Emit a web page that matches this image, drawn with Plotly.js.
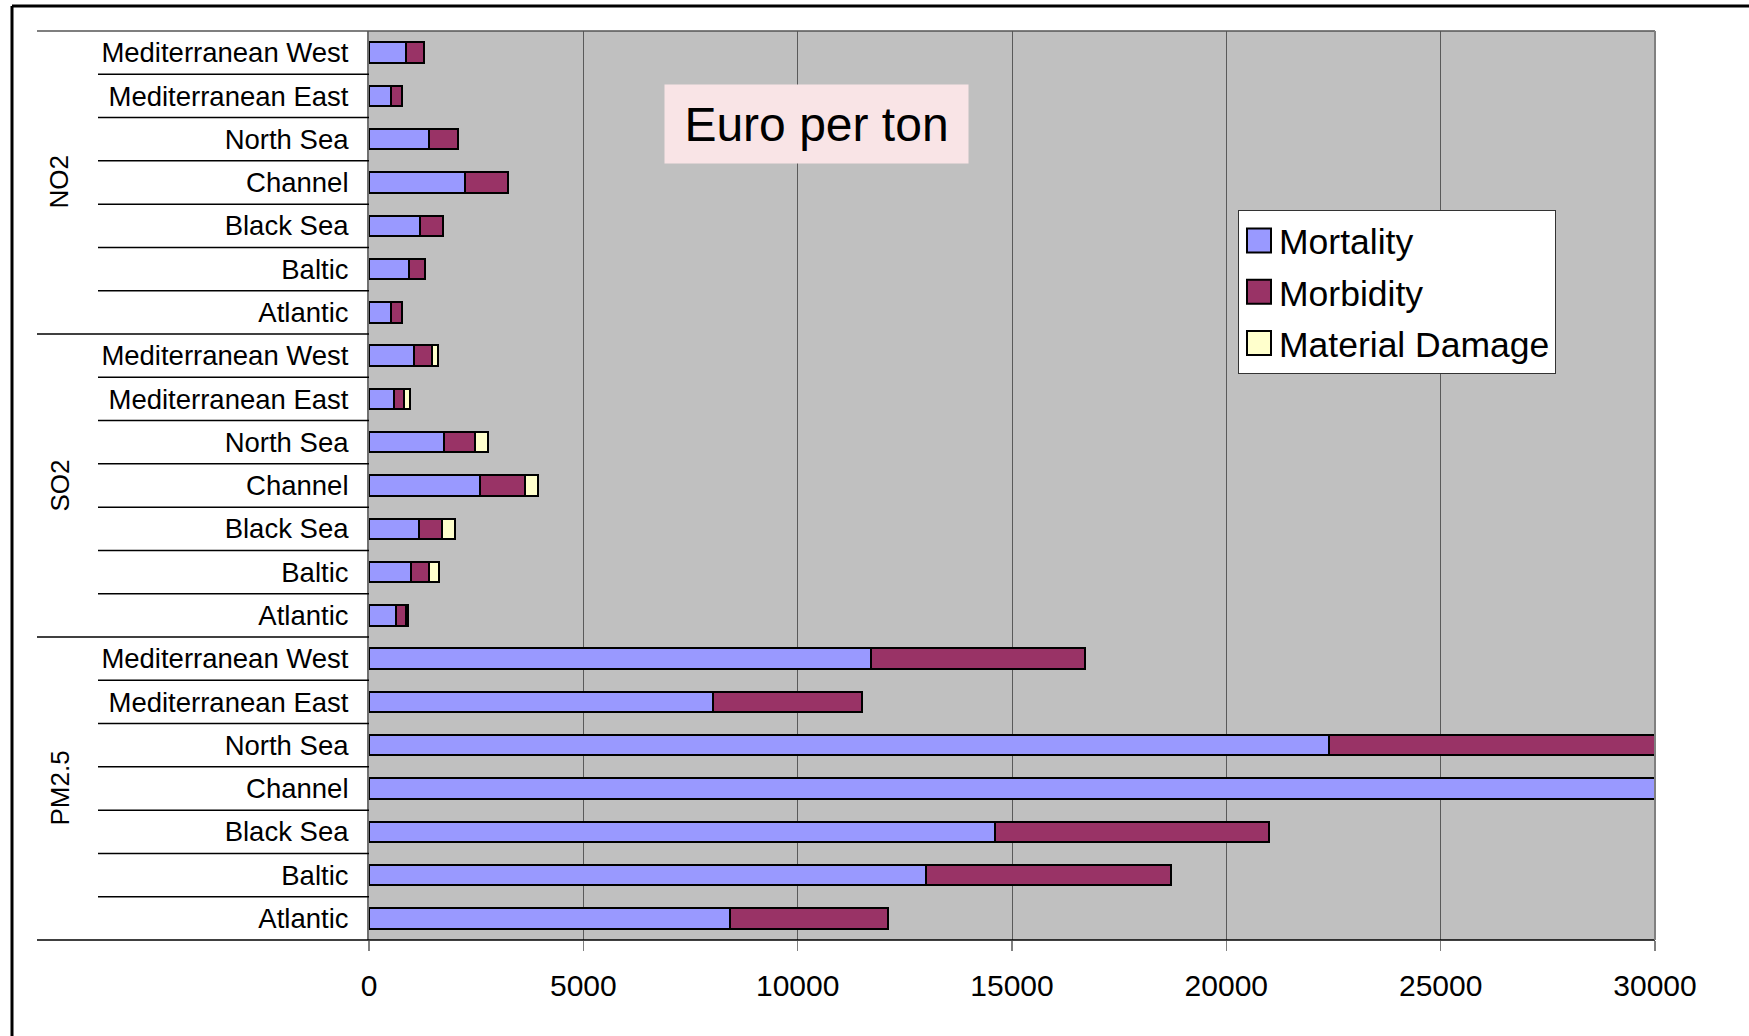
<!DOCTYPE html>
<html>
<head>
<meta charset="utf-8">
<script src="https://cdn.plot.ly/plotly-3.0.1.min.js"></script>
<style>
  html, body { margin: 0; padding: 0; background: #ffffff; }
  #chart { width: 1749px; height: 1036px; }
</style>
</head>
<body>
<div id="chart"></div>
<script>
// Sea areas, listed top to bottom within each pollutant block
const regions = ['Mediterranean West', 'Mediterranean East', 'North Sea', 'Channel', 'Black Sea', 'Baltic', 'Atlantic'];
const pollutants = ['NO2', 'SO2', 'PM2.5'];

// Damage cost, euro per ton emitted
const mortalityNO2 = [870, 520, 1410, 2240, 1180, 930, 520];
const mortalitySO2 = [1050, 590, 1750, 2600, 1170, 990, 630];
const mortalityPM25 = [11700, 8020, 22400, 33500, 14600, 13000, 8420];

const morbidityNO2 = [410, 250, 660, 1010, 540, 370, 250];
const morbiditySO2 = [410, 220, 730, 1040, 530, 420, 240];
const morbidityPM25 = [5000, 3480, 9600, 14400, 6400, 5700, 3680];

const materialNO2 = [null, null, null, null, null, null, null];
const materialSO2 = [140, 140, 290, 310, 300, 230, 50];
const materialPM25 = [null, null, null, null, null, null, null];

const xTicks = [0, 5000, 10000, 15000, 20000, 25000, 30000];

// One category key per (pollutant, region) row
const keys = [];
const labels = [];
pollutants.forEach(p => regions.forEach(r => { keys.push(p + '|' + r); labels.push(r); }));

const FONT = '"Liberation Sans", Arial, Helvetica, sans-serif';
const outline = { color: '#000000', width: 2 };

function series(name, color, a, b, c, group) {
  return {
    type: 'bar',
    orientation: 'h',
    name: name,
    legendgroup: group,
    y: keys,
    x: a.concat(b, c),
    marker: { color: color, line: outline },
    hoverinfo: 'x+name'
  };
}

const traces = [
  series('Mortality', '#9999FF', mortalityNO2, mortalitySO2, mortalityPM25, 'g1'),
  series('Morbidity', '#993366', morbidityNO2, morbiditySO2, morbidityPM25, 'g2'),
  series('Material Damage', '#FFFFCC', materialNO2, materialSO2, materialPM25, 'g3')
];

// Plot-area geometry (pixels) used to place the label-column decorations
const L = 369, R = 94, T = 31, B = 96, W = 1749, H = 1036;
const pw = W - L - R, ph = H - T - B;
const px = x => (x - L) / pw;           // page x -> paper x
const py = y => 1 - (y - T) / ph;       // page y -> paper y
const nRows = keys.length;

const shapes = [];
// row separators in the label column
for (let i = 0; i <= nRows; i++) {
  const yy = 1 - i / nRows;
  const isGroup = (i % regions.length === 0);
  shapes.push({
    type: 'line', xref: 'paper', yref: 'paper',
    x0: isGroup ? px(37) : px(98), x1: (i === 0 || i === nRows) ? 1 : 0,
    y0: yy, y1: yy,
    line: { color: i === 0 ? '#555555' : '#000000', width: 1.5 }
  });
}
// right edge of the plot area
shapes.push({ type: 'line', xref: 'paper', yref: 'paper', x0: 1, x1: 1, y0: 0, y1: 1,
  line: { color: '#808080', width: 2 } });
// outer frame (left and top edges)
shapes.push({ type: 'line', xref: 'paper', yref: 'paper', x0: px(12), x1: px(12), y0: py(1100), y1: py(6),
  line: { color: '#000000', width: 3 } });
shapes.push({ type: 'line', xref: 'paper', yref: 'paper', x0: px(12), x1: px(1800), y0: py(6), y1: py(6),
  line: { color: '#000000', width: 3 } });

const annotations = [];
// pollutant block labels
pollutants.forEach((p, k) => {
  annotations.push({
    xref: 'paper', yref: 'paper', x: px(59), y: 1 - (k * regions.length + regions.length / 2) / nRows,
    text: p, showarrow: false, textangle: -90, xanchor: 'center', yanchor: 'middle',
    font: { family: FONT, size: 26, color: '#000000' }
  });
});
// boxed heading inside the plot
annotations.push({
  xref: 'paper', yref: 'paper', x: px(816), y: py(124), xanchor: 'center', yanchor: 'middle',
  text: 'Euro per ton', showarrow: false,
  font: { family: FONT, size: 48, color: '#000000' },
  bgcolor: '#F9E4E6', borderpad: 0, width: 303, height: 78
});

const layout = {
  width: W, height: H,
  margin: { l: L, r: R, t: T, b: B, pad: 0 },
  paper_bgcolor: '#FFFFFF',
  plot_bgcolor: '#C0C0C0',
  barmode: 'stack',
  bargap: 0.53,
  font: { family: FONT, color: '#000000' },
  showlegend: true,
  legend: {
    x: px(1238), y: py(210), xanchor: 'left', yanchor: 'top',
    bgcolor: '#FFFFFF', bordercolor: '#333333', borderwidth: 1,
    font: { family: FONT, size: 35.5, color: '#000000' },
    traceorder: 'grouped', tracegroupgap: 2, itemwidth: 30
  },
  xaxis: {
    range: [0, 30000],
    tickvals: xTicks,
    ticktext: xTicks.map(String),
    showgrid: true, gridcolor: '#5a5a5a', gridwidth: 1,
    zeroline: false,
    showline: false,
    ticks: 'outside', ticklen: 10, tickcolor: '#808080', tickwidth: 1.5,
    ticklabelstandoff: 9,
    tickfont: { family: FONT, size: 30, color: '#000000' },
    fixedrange: true
  },
  yaxis: {
    type: 'category',
    categoryorder: 'array', categoryarray: keys,
    range: [nRows - 0.5, -0.5],
    tickvals: keys, ticktext: labels,
    showgrid: false, zeroline: false,
    showline: true, linecolor: '#707070', linewidth: 2,
    ticks: '', ticklabelstandoff: 13,
    tickfont: { family: FONT, size: 27.5, color: '#000000' },
    fixedrange: true
  },
  shapes: shapes,
  annotations: annotations
};

Plotly.newPlot('chart', traces, layout, { displayModeBar: false, staticPlot: true }).then(gd => {
  // enlarge the legend swatches, keeping their outline width
  gd.querySelectorAll('.legendpoints path').forEach(p => {
    const t = p.getAttribute('transform') || '';
    p.setAttribute('transform', t + ' scale(2)');
    p.style.vectorEffect = 'non-scaling-stroke';
  });
});
</script>
</body>
</html>
